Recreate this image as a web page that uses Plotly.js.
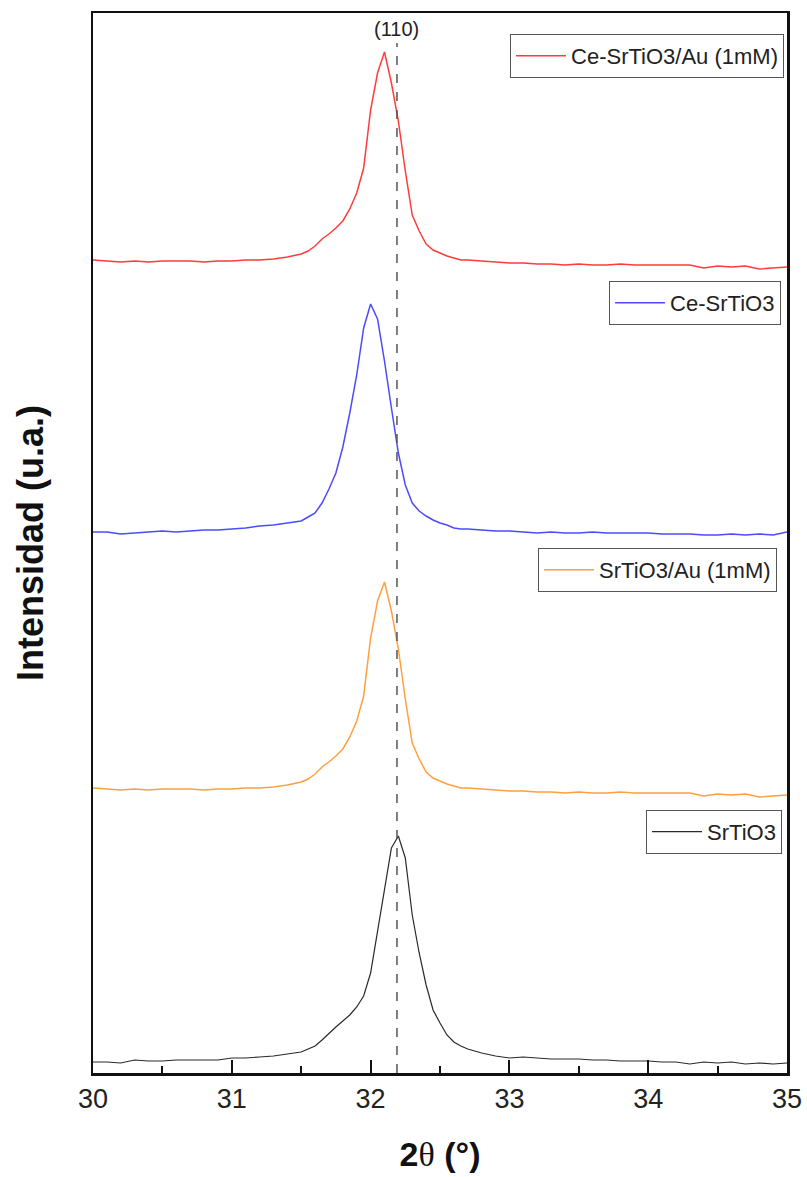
<!DOCTYPE html>
<html>
<head>
<meta charset="utf-8">
<script src="https://cdn.plot.ly/plotly-3.0.1.min.js"></script>
<style>html,body{margin:0;padding:0;background:#fff;}#chart{width:807px;height:1177px;}</style>
</head>
<body>
<div id="chart"></div>
<script>
// 2θ grid (degrees)
const twoTheta = [30.0,30.1,30.2,30.3,30.4,30.5,30.6,30.7,30.8,30.9,31.0,31.1,31.2,31.3,31.4,31.5,
  31.55,31.6,31.65,31.7,31.75,31.8,31.85,31.9,31.95,32.0,32.05,32.1,32.15,32.2,32.25,32.3,32.35,32.4,32.45,32.5,32.55,32.6,32.65,32.7,
  32.8,32.9,33.0,33.1,33.2,33.3,33.4,33.5,33.6,33.7,33.8,33.9,34.0,34.1,34.2,34.3,34.4,34.5,34.6,34.7,34.8,34.9,35.0];

// Intensities (a.u., stacked with offsets as in the figure)
const srtio3 = [11,11,10,13,12,12,13,13,13,13,15,15,16,17,19,21,
  24,27,33,40,46,52,58,66,77,100,143,183,225,237,215,158,120,88,63,50,38,31,27,24,
  20,17,15,16,15,14,14,14,13,13,12,12,12,11,11,9,11,10,11,9,10,9,10];

const srtio3Au = [285,284,283,284,283,284,284,284,283,284,284,285,285,286,288,291,
  294,299,306,311,317,324,336,352,377,435,472,491,462,424,374,330,314,301,295,292,289,287,285,285,
  284,283,282,282,281,281,280,281,280,280,281,280,280,280,280,280,277,279,278,279,276,277,278];

const ceSrtio3 = [541,541,539,540,541,542,541,542,543,543,544,545,547,548,550,552,
  556,560,570,584,600,626,660,698,745,769,754,712,665,620,588,570,562,557,553,550,548,545,544,544,
  543,542,542,541,540,541,540,540,541,540,540,540,540,539,539,539,538,538,539,538,539,538,541];

const ceSrtio3Au = [813,812,811,812,811,812,812,812,811,812,812,813,813,814,816,819,
  822,827,834,839,845,852,864,880,905,963,1000,1021,990,952,902,858,842,829,823,820,817,815,813,813,
  812,811,810,810,809,809,808,809,808,808,809,808,808,808,808,808,805,807,806,807,804,805,806];

const seriesNames = ['SrTiO3','SrTiO3/Au (1mM)','Ce-SrTiO3','Ce-SrTiO3/Au (1mM)'];
const xTickVals = [30,31,32,33,34,35];
const peak110 = 32.19;
const peakLabel = '(110)';

const FONT = 'Liberation Sans, Arial, sans-serif';
const colors = ['#2a2a2a','#ffa040','#4b4bff','#ff3b3b'];
const ys = [srtio3, srtio3Au, ceSrtio3, ceSrtio3Au];
const legendIds = ['legend4','legend3','legend2','legend'];

const traces = ys.map((y,i)=>({
  x: twoTheta, y: y, type:'scatter', mode:'lines', name: seriesNames[i],
  line:{color: colors[i], width: i===0 ? 1.2 : 1.5},
  legend: legendIds[i], showlegend:true
}));

function leg(x, y){
  return {x:x, y:y, xanchor:'right', yanchor:'top', xref:'paper', yref:'paper',
    bgcolor:'#fff', bordercolor:'#555', borderwidth:1,
    font:{family:FONT, size:22, color:'#222'}, itemwidth:50,
    tracegroupgap:0};
}

const layout = {
  width:807, height:1177,
  margin:{l:93, r:20, t:13, b:104},
  paper_bgcolor:'#fff', plot_bgcolor:'#fff',
  font:{family:FONT, color:'#222'},
  xaxis:{
    range:[30,35], tickvals:xTickVals, ticktext:xTickVals.map(String),
    ticks:'inside', ticklen:13, tickwidth:2, tickcolor:'#111',
    minor:{dtick:0.5, ticks:'inside', ticklen:7, tickwidth:2, tickcolor:'#111', showgrid:false},
    showline:true, linecolor:'#111', linewidth:2.5, mirror:true,
    showgrid:false, zeroline:false,
    tickfont:{family:FONT, size:27, color:'#222'},
    title:{text:'<b>2</b><span style="font-family:Liberation Serif">θ</span><b> (°)</b>', font:{family:FONT, size:34, color:'#111'}, standoff:30}
  },
  yaxis:{
    range:[0,1060], showticklabels:false, ticks:'',
    showline:true, linecolor:'#111', linewidth:2.5, mirror:true,
    showgrid:false, zeroline:false,
    title:{text:'<b>Intensidad (u.a.)</b>', font:{family:FONT, size:36, color:'#111'}, standoff:36}
  },
  legend: leg(0.9957, 0.9802),
  legend2: leg(0.9915, 0.7472),
  legend3: leg(0.9856, 0.4953),
  legend4: leg(0.9928, 0.2482),
  shapes:[{type:'line', xref:'x', yref:'y', x0:peak110, x1:peak110, y0:0, y1:1030,
    line:{color:'#555', width:1.5, dash:'dash'}}],
  annotations:[{x:peak110, xref:'x', y:0.985, yref:'paper', text:peakLabel, showarrow:false,
    xanchor:'center', yanchor:'middle', font:{family:FONT, size:20, color:'#222'}}]
};

Plotly.newPlot('chart', traces, layout, {displayModeBar:false, staticPlot:true});
</script>
</body>
</html>
